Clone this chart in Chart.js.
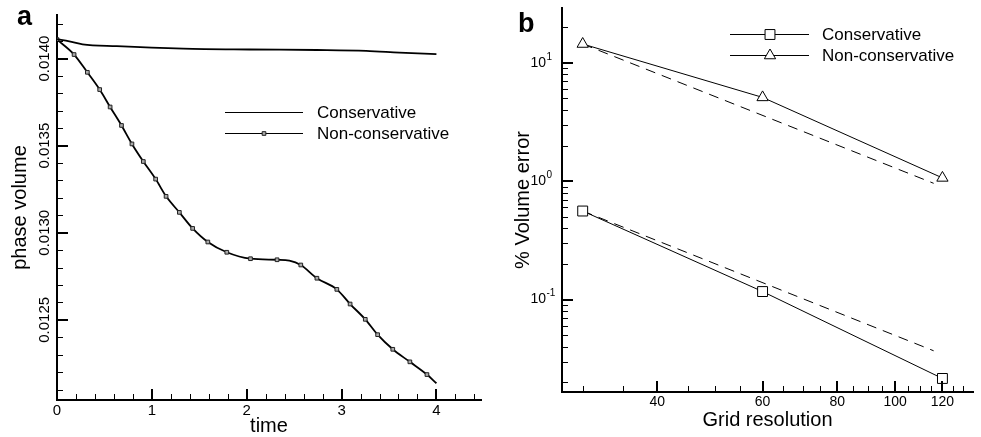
<!DOCTYPE html>
<html><head><meta charset="utf-8">
<script src="https://cdn.jsdelivr.net/npm/chart.js@4/dist/chart.umd.min.js"></script>
<style>
html,body{margin:0;padding:0;background:#fff;width:981px;height:437px;overflow:hidden}
#wa{position:absolute;left:0;top:0;width:490px;height:437px}
#wb{position:absolute;left:490px;top:0;width:491px;height:437px}
</style></head><body>
<div id="wa"><canvas id="ca" width="490" height="437"></canvas></div>
<div id="wb"><canvas id="cb" width="491" height="437"></canvas></div>
<script>
// ---------- Panel a data ----------
const timeCons = [0, 0.13, 0.27, 0.63, 1.33, 2.03, 2.74, 3.26, 3.61, 4.0];
const volCons  = [0.014111, 0.014099, 0.014082, 0.014071, 0.014057, 0.014052, 0.014049, 0.014044, 0.014034, 0.014025];
const timeNonCons = [0, 0.18, 0.32, 0.45, 0.56, 0.68, 0.79, 0.91, 1.04, 1.15, 1.29, 1.43, 1.59, 1.79, 2.04, 2.32, 2.45, 2.57, 2.74, 2.95, 3.09, 3.25, 3.38, 3.54, 3.72, 3.90, 4.00];
const volNonCons  = [0.014109, 0.014023, 0.013921, 0.013822, 0.013722, 0.013616, 0.013510, 0.013409, 0.013308, 0.013209, 0.013117, 0.013025, 0.012947, 0.012888, 0.012851, 0.012845, 0.012840, 0.012815, 0.012739, 0.012675, 0.012591, 0.012503, 0.012415, 0.012331, 0.012259, 0.012186, 0.012136];
const markNonCons = [1,1,1,1,1,1,1,1,1,1,1,1,1,1,1,1,0,1,1,1,1,1,1,1,1,1,0];
const seriesNamesA = ['Conservative', 'Non-conservative'];
const xTicksA = [0, 1, 2, 3, 4];
const xTickLabelsA = ['0', '1', '2', '3', '4'];
const xMinorA = [0.2,0.4,0.6,0.8,1.2,1.4,1.6,1.8,2.2,2.4,2.6,2.8,3.2,3.4,3.6,3.8,4.2,4.4];
const yTicksA = [0.0125, 0.0130, 0.0135, 0.0140];
const yTickLabelsA = ['0.0125', '0.0130', '0.0135', '0.0140'];
const yMinorA = [0.0121,0.0122,0.0123,0.0124,0.0126,0.0127,0.0128,0.0129,0.0131,0.0132,0.0133,0.0134,0.0136,0.0137,0.0138,0.0139,0.0141,0.0142];

// ---------- Panel b data ----------
const gridRes = [30, 60, 120];
const errCons = [0.56, 0.117, 0.0216];
const errNonCons = [14.4, 5.1, 1.066];
const refGrid = [30, 116];
const refCons = [0.56, 0.037];
const refNonCons = [14.4, 0.96];
const seriesNamesB = ['Conservative', 'Non-conservative'];
const xTicksB = [40, 60, 80, 100, 120];
const xTickLabelsB = ['40', '60', '80', '100', '120'];
const xMinorB = [30,35,45,50,55,65,70,75,85,90,95,105,110,115,125,130];
const yTicksB = [0.1, 1, 10];
const yTickBaseB = ['10', '10', '10'];
const yTickExpB = ['-1', '0', '1'];
const yMinorB = [0.02,0.03,0.04,0.05,0.06,0.07,0.08,0.09,0.2,0.3,0.4,0.5,0.6,0.7,0.8,0.9,2,3,4,5,6,7,8,9,20];

const FONT = "'Liberation Sans', Arial, Helvetica, sans-serif";
Chart.defaults.font.family = FONT;
Chart.defaults.color = '#000';

function drawMarker(ctx, style, x, y, r, fill, stroke, lw) {
  ctx.save();
  ctx.lineWidth = lw; ctx.strokeStyle = stroke; ctx.fillStyle = fill;
  ctx.beginPath();
  if (style === 'rect') {
    const s = r * Math.SQRT1_2;
    ctx.rect(x - s, y - s, 2 * s, 2 * s);
  } else if (style === 'triangle') {
    let a = 0;
    ctx.moveTo(x + Math.sin(a) * r, y - Math.cos(a) * r);
    a += 2 * Math.PI / 3; ctx.lineTo(x + Math.sin(a) * r, y - Math.cos(a) * r);
    a += 2 * Math.PI / 3; ctx.lineTo(x + Math.sin(a) * r, y - Math.cos(a) * r);
    ctx.closePath();
  }
  ctx.fill(); ctx.stroke();
  ctx.restore();
}

const inTicks = {
  id: 'inTicks',
  afterDraw(chart, args, o) {
    const ctx = chart.ctx, a = chart.chartArea;
    const xs = chart.scales.x, ys = chart.scales.y;
    ctx.save(); ctx.strokeStyle = '#000';
    const seg = (x1, y1, x2, y2, w) => { ctx.lineWidth = w; ctx.beginPath(); ctx.moveTo(x1, y1); ctx.lineTo(x2, y2); ctx.stroke(); };
    o.xMajor.forEach(v => { const p = Math.round(xs.getPixelForValue(v)); seg(p, a.bottom, p, a.bottom - o.majorLen, 2); });
    o.xMinor.forEach(v => { const p = Math.round(xs.getPixelForValue(v)) + 0.5; seg(p, a.bottom, p, a.bottom - o.minorLen, 1); });
    o.yMajor.forEach(v => { const p = Math.round(ys.getPixelForValue(v)); seg(a.left, p, a.left + o.majorLen, p, 2); });
    o.yMinor.forEach(v => { const p = Math.round(ys.getPixelForValue(v)) + 0.5; seg(a.left, p, a.left + o.minorLen, p, 1); });
    if (o.yExp) {
      ctx.fillStyle = '#000';
      ctx.font = o.expSize + 'px ' + FONT;
      ctx.textAlign = 'left'; ctx.textBaseline = 'middle';
      o.yMajor.forEach((v, i) => {
        const p = ys.getPixelForValue(v);
        ctx.fillText(o.yExp[i], o.expX, p - o.expRaise);
      });
    }
    ctx.restore();
  }
};

const lineLegend = {
  id: 'lineLegend',
  afterDraw(chart, args, o) {
    const ctx = chart.ctx;
    ctx.save();
    o.items.forEach((it, i) => {
      const ds = chart.data.datasets[it];
      const y = o.ys[i];
      ctx.strokeStyle = '#000'; ctx.lineWidth = 1;
      ctx.beginPath(); ctx.moveTo(o.x0, y + 0.5); ctx.lineTo(o.x1, y + 0.5); ctx.stroke();
      if (o.markers[i]) {
        const m = o.markers[i];
        drawMarker(ctx, m.style, o.xm, y + 0.5, m.r, m.fill, m.stroke, m.lw);
      }
      ctx.fillStyle = '#000';
      ctx.font = o.fontSize + 'px ' + FONT;
      ctx.textBaseline = 'middle'; ctx.textAlign = 'left';
      ctx.fillText(ds.label, o.xt, y + 1);
    });
    ctx.font = 'bold ' + o.tagSize + 'px ' + FONT;
    ctx.textBaseline = 'alphabetic'; ctx.textAlign = 'left';
    ctx.fillText(o.tag, o.tagX, o.tagY);
    ctx.restore();
  }
};

const fixY = w => s => { s.width = w; s.paddingTop = 0; s.paddingBottom = 0; };
const fixX = h => s => { s.height = h; s.paddingLeft = 0; s.paddingRight = 0; };

// ---------- Chart a ----------
new Chart(document.getElementById('ca'), {
  type: 'line',
  data: {
    datasets: [
      {
        label: seriesNamesA[0],
        data: timeCons.map((t, i) => ({ x: t, y: volCons[i] })),
        borderColor: '#000', borderWidth: 1.8, pointRadius: 0,
        cubicInterpolationMode: 'monotone'
      },
      {
        label: seriesNamesA[1],
        data: timeNonCons.map((t, i) => ({ x: t, y: volNonCons[i] })),
        borderColor: '#000', borderWidth: 1.8,
        pointRadius: markNonCons.map(m => m ? 2.6 : 0),
        pointStyle: 'rect', pointBackgroundColor: '#aaa', pointBorderColor: '#222', pointBorderWidth: 1,
        cubicInterpolationMode: 'monotone'
      }
    ]
  },
  options: {
    responsive: false, animation: false, events: [],
    layout: { padding: { top: 15, right: 9, left: 0, bottom: 0 } },
    plugins: {
      legend: { display: false }, tooltip: { enabled: false },
      inTicks: { xMajor: xTicksA, xMinor: xMinorA, yMajor: yTicksA, yMinor: yMinorA, majorLen: 11, minorLen: 6 },
      lineLegend: {
        items: [0, 1], ys: [112, 133], x0: 225, x1: 303, xm: 264, xt: 317, fontSize: 17,
        markers: [null, { style: 'rect', r: 2.6, fill: '#aaa', stroke: '#222', lw: 1 }],
        tag: 'a', tagX: 17, tagY: 25, tagSize: 27
      }
    },
    scales: {
      x: {
        type: 'linear', min: 0, max: 4.47, bounds: 'data',
        afterBuildTicks: s => { s.ticks = xTicksA.map(v => ({ value: v })); },
        afterFit: fixX(37),
        grid: { display: true, drawOnChartArea: false, drawTicks: false },
        border: { display: true, color: '#000', width: 2 },
        ticks: { font: { size: 15 }, padding: 2, maxRotation: 0,
          callback: (v) => { const i = xTicksA.indexOf(v); return i >= 0 ? xTickLabelsA[i] : ''; } },
        title: { display: true, text: 'time', font: { size: 20, lineHeight: 1 }, padding: { top: 0, bottom: 1 } }
      },
      y: {
        type: 'linear', min: 0.01204, max: 0.01425, bounds: 'data',
        afterBuildTicks: s => { s.ticks = yTicksA.map(v => ({ value: v })); },
        afterFit: fixY(57),
        grid: { display: true, drawOnChartArea: false, drawTicks: false },
        border: { display: true, color: '#000', width: 2 },
        ticks: { font: { size: 15 }, minRotation: 90, maxRotation: 90, crossAlign: 'center', padding: -11,
          callback: (v) => { const i = yTicksA.findIndex(t => Math.abs(t - v) < 1e-9); return i >= 0 ? yTickLabelsA[i] : ''; } },
        title: { display: true, text: 'phase volume', font: { size: 20, lineHeight: 1 }, padding: { top: 10, bottom: 0 } }
      }
    }
  },
  plugins: [inTicks, lineLegend]
});

// ---------- Chart b ----------
new Chart(document.getElementById('cb'), {
  type: 'line',
  data: {
    datasets: [
      {
        label: seriesNamesB[0],
        data: gridRes.map((g, i) => ({ x: g, y: errCons[i] })),
        borderColor: '#000', borderWidth: 1, pointRadius: 7, pointStyle: 'rect',
        pointBackgroundColor: '#fff', pointBorderColor: '#000', pointBorderWidth: 1
      },
      {
        label: seriesNamesB[1],
        data: gridRes.map((g, i) => ({ x: g, y: errNonCons[i] })),
        borderColor: '#000', borderWidth: 1, pointRadius: 6.5, pointStyle: 'triangle',
        pointBackgroundColor: '#fff', pointBorderColor: '#000', pointBorderWidth: 1
      },
      {
        label: 'ref-cons',
        data: refGrid.map((g, i) => ({ x: g, y: refCons[i] })),
        borderColor: '#000', borderWidth: 1, borderDash: [10, 7], pointRadius: 0
      },
      {
        label: 'ref-noncons',
        data: refGrid.map((g, i) => ({ x: g, y: refNonCons[i] })),
        borderColor: '#000', borderWidth: 1, borderDash: [10, 7], pointRadius: 0
      }
    ]
  },
  options: {
    responsive: false, animation: false, events: [],
    layout: { padding: { top: 6, right: 1, left: 0, bottom: 0 } },
    plugins: {
      legend: { display: false }, tooltip: { enabled: false },
      inTicks: { xMajor: xTicksB, xMinor: xMinorB, yMajor: yTicksB, yMinor: yMinorB, majorLen: 11, minorLen: 6,
        yExp: yTickExpB, expX: 56.5, expRaise: 6, expSize: 10 },
      lineLegend: {
        items: [0, 1], ys: [34, 55], x0: 240, x1: 319, xm: 280, xt: 332, fontSize: 17,
        markers: [{ style: 'rect', r: 7, fill: '#fff', stroke: '#000', lw: 1 }, { style: 'triangle', r: 6.5, fill: '#fff', stroke: '#000', lw: 1 }],
        tag: 'b', tagX: 28, tagY: 32, tagSize: 27
      }
    },
    scales: {
      x: {
        type: 'logarithmic', min: 27.7, max: 135, bounds: 'data',
        afterBuildTicks: s => { s.ticks = xTicksB.map(v => ({ value: v })); },
        afterFit: fixX(45),
        grid: { display: true, drawOnChartArea: false, drawTicks: false },
        border: { display: true, color: '#000', width: 2 },
        ticks: { font: { size: 14 }, padding: 2, maxRotation: 0, autoSkip: false,
          callback: (v) => { const i = xTicksB.indexOf(v); return i >= 0 ? xTickLabelsB[i] : ''; } },
        title: { display: true, text: 'Grid resolution', font: { size: 20, lineHeight: 1 }, padding: { top: 0, bottom: 7 } }
      },
      y: {
        type: 'logarithmic', min: 0.0166, max: 29, bounds: 'data',
        afterBuildTicks: s => { s.ticks = yTicksB.map(v => ({ value: v })); },
        afterFit: fixY(72),
        grid: { display: true, drawOnChartArea: false, drawTicks: false },
        border: { display: true, color: '#000', width: 2 },
        ticks: { font: { size: 14 }, padding: 16, autoSkip: false,
          callback: (v) => { const i = yTicksB.findIndex(t => Math.abs(t - v) < 1e-9); return i >= 0 ? yTickBaseB[i] : ''; } },
        title: { display: true, text: '% Volume error', font: { size: 20, lineHeight: 1 }, padding: { top: 23, bottom: 0 } }
      }
    }
  },
  plugins: [inTicks, lineLegend]
});
</script>
</body></html>
